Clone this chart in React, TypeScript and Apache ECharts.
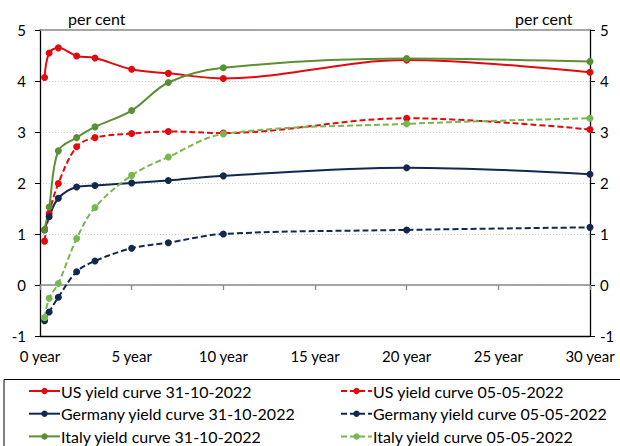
import React, { useEffect, useRef } from "react";
import * as echarts from "echarts";

const maturities = [0.25, 0.5, 1, 2, 3, 5, 7, 10, 20, 30];
const usOct = [4.07, 4.55, 4.65, 4.49, 4.45, 4.23, 4.15, 4.05, 4.41, 4.17];
const usMay = [0.86, 1.4, 1.99, 2.71, 2.89, 2.97, 3.01, 2.98, 3.27, 3.05];
const deOct = [1.08, 1.34, 1.7, 1.92, 1.95, 2.0, 2.05, 2.14, 2.3, 2.17];
const deMay = [-0.7, -0.53, -0.24, 0.26, 0.47, 0.72, 0.83, 1.0, 1.08, 1.13];
const itOct = [1.09, 1.53, 2.63, 2.89, 3.1, 3.42, 3.97, 4.26, 4.44, 4.38];
const itMay = [-0.64, -0.26, 0.03, 0.91, 1.52, 2.15, 2.51, 2.96, 3.16, 3.27];

const seriesNames = [
  "US yield curve 31-10-2022",
  "US yield curve 05-05-2022",
  "Germany yield curve 31-10-2022",
  "Germany yield curve 05-05-2022",
  "Italy yield curve 31-10-2022",
  "Italy yield curve 05-05-2022",
];

const RED = "#E30A0F";
const NAVY = "#12284F";
const GREEN = "#5B8F33";
const LGREEN = "#76B84F";
const FONT = "Lato";

export default function App() {
  const ref = useRef<HTMLDivElement>(null);
  useEffect(() => {
    if (!ref.current) return;
    const chart = echarts.init(ref.current, null, { renderer: "svg" });
    const mk = (name: string, vals: number[], color: string, dashed: boolean) => ({
      name,
      type: "line",
      data: maturities.map((m, i) => [m, vals[i]]),
      smooth: 0.35,
      symbol: "circle",
      symbolSize: 7,
      showSymbol: true,
      itemStyle: { color },
      lineStyle: { color, width: 2, type: dashed ? [6, 3] : "solid" },
      emphasis: { disabled: true },
      z: 3,
    });
    const legendCommon = {
      orient: "vertical",
      top: 383,
      height: 100,
      padding: 0,
      itemWidth: 31,
      itemHeight: 8,
      itemGap: 6.7,
      textStyle: {
        fontFamily: FONT,
        fontSize: 16,
        lineHeight: 16,
        color: "#000",
        padding: [0, 0, 0, -4],
      },
      selectedMode: false,
    };
    chart.setOption({
      animation: false,
      textStyle: { fontFamily: FONT },
      grid: { left: 40, right: 30, top: 30, bottom: 110, containLabel: false },
      xAxis: [
        {
          type: "value",
          min: 0,
          max: 30,
          interval: 5,
          position: "bottom",
          axisLine: { onZero: false, lineStyle: { color: "#000", width: 1.3 } },
          axisTick: { show: false },
          splitLine: { show: false },
          axisLabel: {
            formatter: (v: number) => `${v} year`,
            fontFamily: FONT,
            fontSize: 15,
            color: "#000",
            margin: 12,
          },
        },
        {
          type: "value",
          min: 0,
          max: 30,
          interval: 5,
          position: "bottom",
          axisLine: { onZero: true, lineStyle: { color: "#888", width: 1.5 } },
          axisTick: { show: true, length: 5, lineStyle: { color: "#888", width: 1.3 } },
          splitLine: { show: false },
          axisLabel: { show: false },
        },
        {
          type: "value",
          min: 0,
          max: 30,
          interval: 5,
          position: "top",
          axisLine: { onZero: false, lineStyle: { color: "#888", width: 1.5 } },
          axisTick: { show: false },
          splitLine: { show: false },
          axisLabel: { show: false },
        },
      ],
      yAxis: [
        {
          type: "value",
          min: -1,
          max: 5,
          interval: 1,
          position: "left",
          axisLine: { show: true, onZero: false, lineStyle: { color: "#000", width: 1.3 } },
          axisTick: { show: true, length: 5, lineStyle: { color: "#000" } },
          splitLine: {
            show: true,
            showMinLine: false,
            showMaxLine: false,
            lineStyle: { color: "#d0d0d0", type: [1, 2], width: 1 },
          },
          axisLabel: { fontFamily: FONT, fontSize: 15, color: "#000", margin: 14 },
        },
        {
          type: "value",
          min: -1,
          max: 5,
          interval: 1,
          position: "right",
          axisLine: { show: true, onZero: false, lineStyle: { color: "#000", width: 1.3 } },
          axisTick: { show: true, length: 5, lineStyle: { color: "#000" } },
          splitLine: { show: false },
          axisLabel: { fontFamily: FONT, fontSize: 15, color: "#000", margin: 10 },
        },
      ],
      legend: [
        { ...legendCommon, left: 28, data: [seriesNames[0], seriesNames[2], seriesNames[4]] },
        { ...legendCommon, left: 340, data: [seriesNames[1], seriesNames[3], seriesNames[5]] },
      ],
      graphic: [
        {
          type: "rect",
          shape: { x: 4, y: 379.5, width: 700, height: 120 },
          style: { fill: "none", stroke: "#000", lineWidth: 1 },
          z: 0,
        },
        {
          type: "text",
          x: 68,
          y: 18,
          style: { text: "per cent", fontFamily: FONT, fontSize: 16, fill: "#000", verticalAlign: "middle" },
        },
        {
          type: "text",
          x: 515,
          y: 18,
          style: { text: "per cent", fontFamily: FONT, fontSize: 16, fill: "#000", verticalAlign: "middle" },
        },
      ],
      series: [
        mk(seriesNames[0], usOct, RED, false),
        mk(seriesNames[1], usMay, RED, true),
        mk(seriesNames[2], deOct, NAVY, false),
        mk(seriesNames[3], deMay, NAVY, true),
        mk(seriesNames[4], itOct, GREEN, false),
        mk(seriesNames[5], itMay, LGREEN, true),
      ],
    });
    return () => chart.dispose();
  }, []);
  return <div ref={ref} style={{ width: 620, height: 446, position: "absolute", left: 0, top: 0 }} />;
}
